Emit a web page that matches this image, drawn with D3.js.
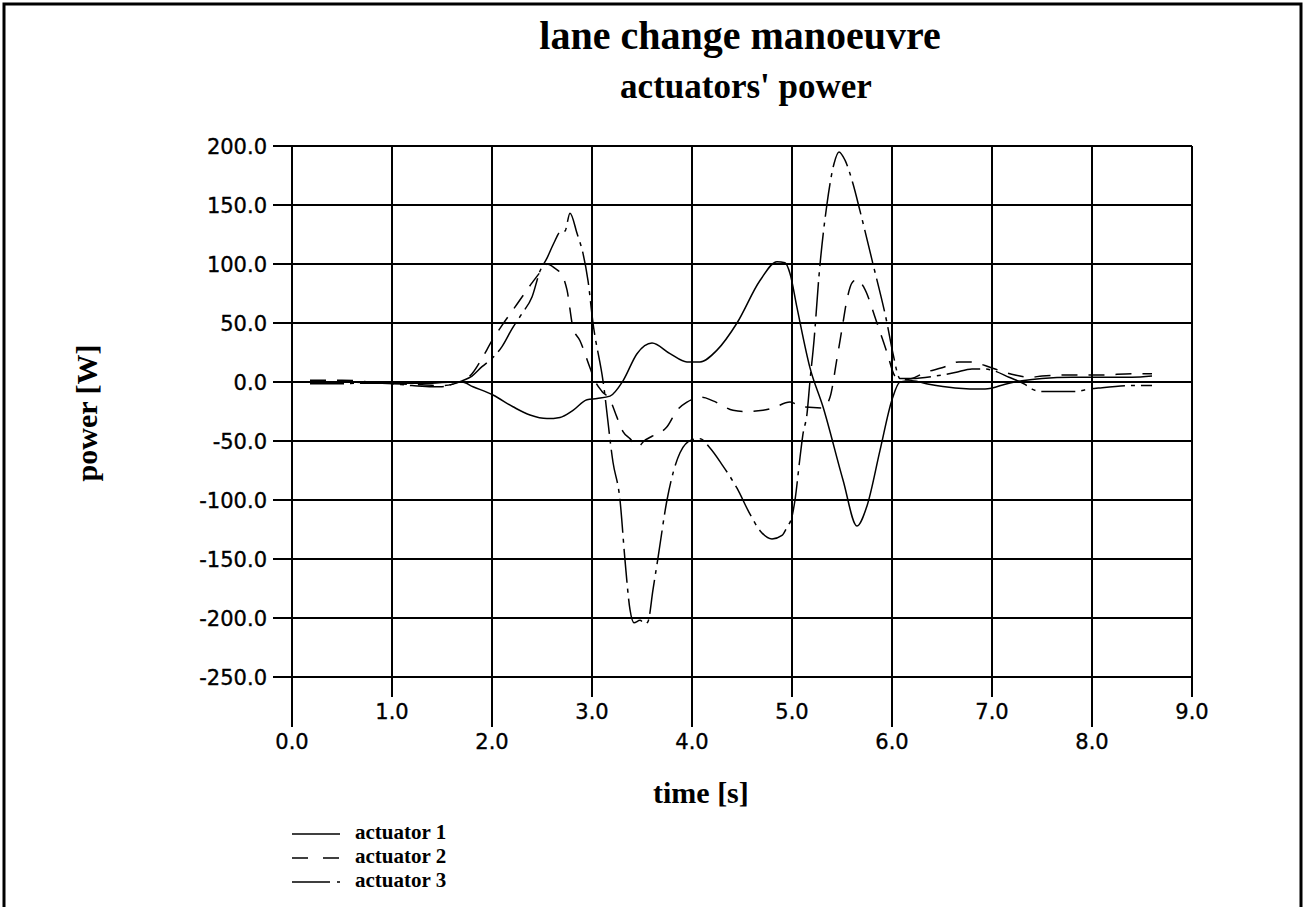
<!DOCTYPE html>
<html>
<head>
<meta charset="utf-8">
<script src="https://cdn.jsdelivr.net/npm/d3@7"></script>
<style>
  body { margin: 0; background: #fff; }
  svg { display: block; }
  .tick-label { font-family: "DejaVu Sans", sans-serif; font-size: 21px; fill: #000; stroke: #000; stroke-width: 0.35px; }
  .serif { font-family: "Liberation Serif", "Times New Roman", serif; font-weight: bold; fill: #000; }
</style>
</head>
<body>
<div id="chart"></div>
<script>
// values
const yTicks = [-250, -200, -150, -100, -50, 0, 50, 100, 150, 200];
const xTicks = [0, 1, 2, 3, 4, 5, 6, 7, 8, 9];

const act1Time = [0.18, 0.4, 0.6, 0.8, 1.0, 1.2, 1.4, 1.6, 1.7, 1.81, 2.01, 2.21, 2.38, 2.55, 2.68, 2.81, 2.95, 3.05, 3.18, 3.31, 3.45, 3.6, 3.78, 3.95, 4.08, 4.25, 4.45, 4.68, 4.85, 4.93, 4.98, 5.05, 5.18, 5.31, 5.51, 5.65, 5.75, 5.88, 6.0, 6.08, 6.2, 6.37, 6.63, 6.93, 7.17, 7.3, 7.5, 7.8, 8.1, 8.4, 8.6];
const act1Power = [0, 0, 0, -1, -1, -1, -1, 0, 0, -4, -11, -21, -28, -31, -30, -24, -15, -14, -12, 1, 24, 33, 24, 17, 17, 27, 50, 86, 102, 101, 92, 63, 12, -21, -83, -122, -105, -58, -15, 0, 1, -2, -5, -6, -1, 1, 3, 4, 4, 4, 5];

const act2Time = [0.18, 0.5, 0.65, 0.9, 1.2, 1.5, 1.6, 1.7, 1.8, 1.9, 2.0, 2.1, 2.2, 2.3, 2.4, 2.5, 2.55, 2.62, 2.71, 2.75, 2.81, 2.88, 2.98, 3.03, 3.1, 3.18, 3.25, 3.31, 3.38, 3.46, 3.52, 3.6, 3.7, 3.75, 3.85, 3.95, 4.1, 4.21, 4.41, 4.51, 4.71, 4.81, 4.98, 5.1, 5.31, 5.38, 5.45, 5.5, 5.55, 5.6, 5.65, 5.72, 5.85, 5.95, 6.03, 6.1, 6.2, 6.33, 6.5, 6.67, 6.8, 6.93, 7.1, 7.23, 7.37, 7.5, 7.8, 8.1, 8.4, 8.6];
const act2Power = [1.5, 1.5, 1, -1, -2, -3, -2, 1, 7, 20, 35, 48, 60, 72, 84, 95, 100, 97, 89, 78, 46, 35, 12, 1, -8, -15, -30, -42, -48, -55, -50, -46, -42, -38, -24, -17, -13, -16, -24, -25, -24, -22, -17, -21, -22, -13, 20, 45, 70, 84, 87, 80, 50, 25, 5, 2, 3, 8, 12, 17, 17, 14, 9, 6, 4, 5, 6, 6, 7, 7];

const act3Time = [0.18, 0.5, 0.65, 0.9, 1.2, 1.4, 1.5, 1.6, 1.7, 1.8, 1.9, 2.0, 2.1, 2.2, 2.3, 2.4, 2.48, 2.55, 2.62, 2.68, 2.73, 2.78, 2.85, 2.91, 2.96, 3.01, 3.11, 3.21, 3.28, 3.33, 3.38, 3.42, 3.48, 3.53, 3.56, 3.61, 3.66, 3.75, 3.88, 4.0, 4.08, 4.18, 4.3, 4.45, 4.58, 4.68, 4.8, 4.9, 4.95, 5.0, 5.03, 5.08, 5.11, 5.15, 5.18, 5.22, 5.27, 5.35, 5.42, 5.47, 5.53, 5.61, 5.68, 5.81, 5.95, 6.01, 6.08, 6.2, 6.43, 6.63, 6.8, 6.93, 7.0, 7.17, 7.33, 7.4, 7.48, 7.83, 7.97, 8.08, 8.43, 8.6];
const act3Power = [-1.5, -1.5, -1, -1, -3, -4, -4, -2, 1, 5, 13, 20, 30, 45, 58, 72, 94, 105, 118, 127, 128, 143, 126, 109, 86, 50, 1, -68, -100, -151, -193, -204, -202, -205, -203, -176, -149, -100, -60, -49, -48, -56, -70, -90, -112, -126, -133, -130, -123, -114, -100, -64, -44, -27, 1, 35, 90, 151, 185, 195, 188, 168, 145, 100, 50, 24, 3, 3, 5, 8, 11, 11, 10, 4, -2, -6, -8, -8, -6, -5, -3, -3];

const seriesNames = ["actuator 1", "actuator 2", "actuator 3"];
const seriesDash = ["none", "16,11", "34,6,4,6"];

const width = 1305, height = 907;
const plotLeft = 292, plotRight = 1192, plotTop = 146, plotBottom = 677;

// tick labels use a plain hyphen for negatives
const fmt = d => d3.format(".1f")(d).replace("\u2212", "-");

const svg = d3.select("#chart").append("svg")
  .attr("width", width)
  .attr("height", height);

// outer frame (bottom edge is off the page)
svg.append("path")
  .attr("d", "M4,960 L4,4 L1301,4 L1301,960")
  .attr("fill", "none")
  .attr("stroke", "#000")
  .attr("stroke-width", 3);

const x = d3.scaleLinear().domain([0, 9]).range([plotLeft, plotRight]);
const y = d3.scaleLinear().domain([-250, 200]).range([plotBottom, plotTop]);

// horizontal grid + tick stubs
svg.selectAll(".hgrid")
  .data(yTicks)
  .enter().append("line")
  .attr("x1", plotLeft - 19).attr("x2", plotRight)
  .attr("y1", d => y(d)).attr("y2", d => y(d))
  .attr("stroke", "#000").attr("stroke-width", 2);

svg.selectAll(".ylab")
  .data(yTicks)
  .enter().append("text")
  .attr("class", "tick-label")
  .attr("x", plotLeft - 25)
  .attr("y", d => y(d))
  .attr("dy", "0.36em")
  .attr("text-anchor", "end")
  .text(fmt);

// vertical grid, even ticks hang lower than odd ones
svg.selectAll(".vgrid")
  .data(xTicks)
  .enter().append("line")
  .attr("x1", d => x(d)).attr("x2", d => x(d))
  .attr("y1", plotTop)
  .attr("y2", d => d % 2 === 0 ? plotBottom + 50 : plotBottom + 20)
  .attr("stroke", "#000").attr("stroke-width", 2);

svg.selectAll(".xlab")
  .data(xTicks)
  .enter().append("text")
  .attr("class", "tick-label")
  .attr("x", d => x(d))
  .attr("y", d => d % 2 === 0 ? plotBottom + 64 : plotBottom + 34)
  .attr("dy", "0.36em")
  .attr("text-anchor", "middle")
  .text(fmt);

// curves
const series = [
  d3.zip(act1Time, act1Power),
  d3.zip(act2Time, act2Power),
  d3.zip(act3Time, act3Power)
];

const line = d3.line()
  .x(d => x(d[0]))
  .y(d => y(d[1]))
  .curve(d3.curveMonotoneX);

svg.selectAll(".curve")
  .data(series)
  .enter().append("path")
  .attr("d", line)
  .attr("fill", "none")
  .attr("stroke", "#000")
  .attr("stroke-width", 1.5)
  .attr("stroke-dasharray", (d, i) => seriesDash[i]);

// titles
svg.append("text")
  .attr("class", "serif")
  .attr("x", 740).attr("y", 49)
  .attr("text-anchor", "middle")
  .style("font-size", "40px")
  .text("lane change manoeuvre");

svg.append("text")
  .attr("class", "serif")
  .attr("x", 746).attr("y", 98)
  .attr("text-anchor", "middle")
  .style("font-size", "35px")
  .text("actuators' power");

svg.append("text")
  .attr("class", "serif")
  .attr("transform", "translate(97,413) rotate(-90)")
  .attr("text-anchor", "middle")
  .style("font-size", "30px")
  .text("power [W]");

svg.append("text")
  .attr("class", "serif")
  .attr("x", 653).attr("y", 803)
  .style("font-size", "30px")
  .text("time [s]");

// legend
const legend = svg.selectAll(".legend")
  .data(seriesNames)
  .enter().append("g")
  .attr("transform", (d, i) => "translate(292," + (834 + i * 24) + ")");

legend.append("line")
  .attr("x1", 0).attr("x2", 48)
  .attr("stroke", "#000")
  .attr("stroke-width", 1.5)
  .attr("stroke-dasharray", (d, i) => i === 1 ? "16,15" : i === 2 ? "38,7,4,10" : "none");

legend.append("text")
  .attr("class", "serif")
  .attr("x", 63).attr("y", 5)
  .style("font-size", "21px")
  .text(d => d);
</script>
</body>
</html>
